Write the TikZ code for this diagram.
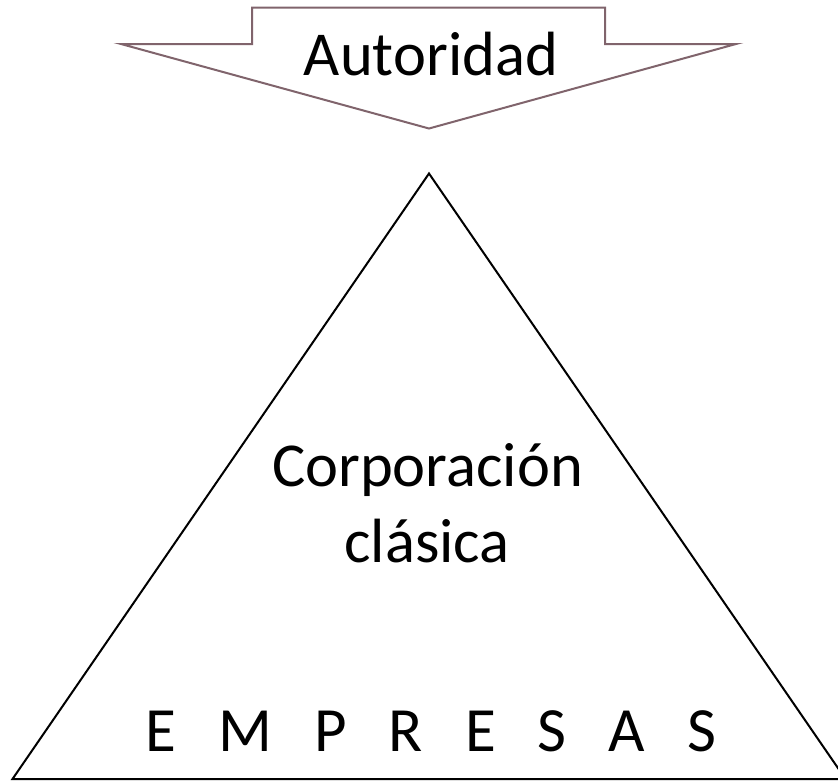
\documentclass[tikz,border=0pt]{standalone}
\usepackage{fontspec}
\setmainfont{Carlito}
\definecolor{arrowline}{RGB}{128,100,108}
\begin{document}
\begin{tikzpicture}[x=1pt,y=-1pt,
  arrowshape/.style={draw=arrowline,line width=2pt,line join=miter,fill=white},
  tri/.style={draw=black,line width=2pt,line join=miter},
  bigtext/.style={font=\fontsize{62.5}{72}\selectfont,inner sep=0pt,anchor=base},
  midtext/.style={font=\fontsize{62.5}{76}\selectfont,inner sep=0pt,anchor=base,align=center},
  emptext/.style={font=\fontsize{63}{72}\selectfont,inner sep=0pt,anchor=base}]
\useasboundingbox (0,0) rectangle (838,780);
% top arrow
\coordinate (sTL) at (252,7.5);
\coordinate (sTR) at (605,7.5);
\coordinate (aR) at (736,44);
\coordinate (aL) at (121,44);
\coordinate (tip) at (429,128.5);
\draw[arrowshape] (sTL) -- (sTR) -- (605,44) -- (aR) -- (tip) -- (aL) -- (252,44) -- cycle;
\node[bigtext] (aut) at (431,75) {Autoridad};
% triangle
\coordinate (apex) at (429,173.5);
\coordinate (bl) at (12.5,779);
\coordinate (br) at (845.5,779);
\draw[tri] (apex) -- (br) -- (bl) -- cycle;
\node[midtext] (corp1) at (427.5,486) {Corporación};
\node[midtext] (corp2) at (427,562) {clásica};
\node[emptext] (emp) at (431,751) {E\hspace{42pt}M\hspace{42pt}P\hspace{42pt}R\hspace{42pt}E\hspace{42pt}S\hspace{42pt}A\hspace{42pt}S};
\end{tikzpicture}
\end{document}
